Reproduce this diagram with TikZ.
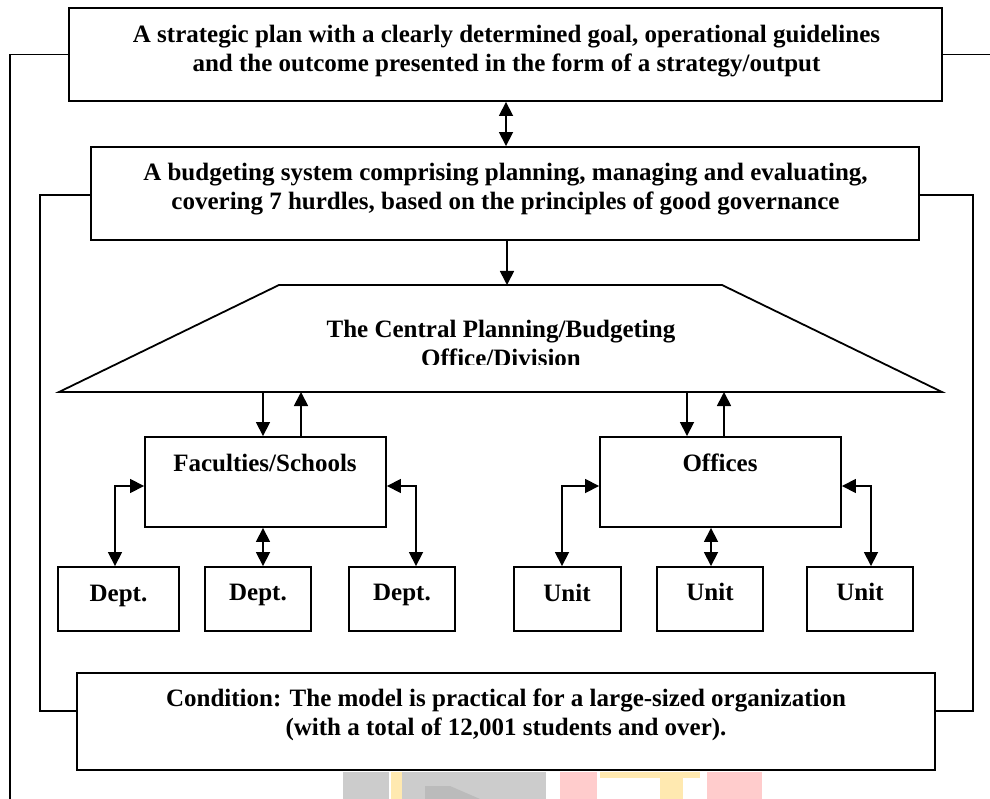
\documentclass[tikz,border=0pt]{standalone}
\usepackage{fontspec}
\setmainfont{Liberation Serif}
\usetikzlibrary{arrows.meta}
\definecolor{wmgray}{HTML}{CCCCCC}
\definecolor{wmdark}{HTML}{BBBBBB}
\definecolor{wmpink}{HTML}{FFCCCC}
\definecolor{wmyel}{HTML}{FFE9B0}
\begin{document}
\begin{tikzpicture}[x=1pt,y=-1pt,
  box/.style={draw, line width=1.9pt, inner sep=0pt, fill=white},
  lbl/.style={font=\fontsize{25}{29}\selectfont\bfseries, align=center, anchor=base, inner sep=0pt},
  conn/.style={line width=1.7pt},
  arr/.style={conn, -{Triangle[length=14pt,width=14pt]}},
  dbl/.style={conn, {Triangle[length=14pt,width=14pt]}-{Triangle[length=14pt,width=14pt]}}]
\useasboundingbox (0,0) rectangle (990,799);

% faint watermark at the bottom edge
\fill[wmgray] (343,772) rectangle (389,799);
\fill[wmyel] (391,772) rectangle (402,799);
\fill[wmgray] (402,772) rectangle (546,799);
\fill[wmdark] (425,786) -- (450,786) -- (480,799) -- (425,799) -- cycle;
\fill[wmpink] (560,772) rectangle (597,799);
\fill[wmyel] (600,772) rectangle (700,778);
\fill[wmyel] (660,772) rectangle (683,799);
\fill[wmpink] (707,772) rectangle (762,799);

% main boxes
\node[box, minimum width=873pt, minimum height=93pt] (top) at (505.5,54.5) {};
\node[lbl] (toptxt) at (506.5,71.7) {A strategic plan with a clearly determined goal, operational guidelines\\and the outcome presented in the form of a strategy/output};

\node[box, minimum width=828pt, minimum height=93pt] (bud) at (505,193.5) {};
\node[lbl] (budtxt) at (505.5,209.3) {A budgeting system comprising planning, managing and evaluating,\\covering 7 hurdles, based on the principles of good governance};

% trapezoid
\node[inner sep=0pt, outer sep=0pt, minimum width=883pt, minimum height=107pt] (trap) at (500.5,338.5) {};
\draw[line width=1.8pt] (trap.south west) -- (trap.south east) -- ([xshift=-220pt]trap.north east) -- ([xshift=220pt]trap.north west) -- cycle;
\begin{scope}
\clip (0,0) rectangle (990,364);
\node[lbl] (traptxt) at (501,366.7) {The Central Planning/Budgeting\\Office/Division};
\end{scope}

% second level
\node[box, minimum width=241pt, minimum height=90pt] (fac) at (265.5,482) {};
\node[lbl] (factxt) at (265,471.7) {Faculties/Schools};
\node[box, minimum width=241pt, minimum height=90pt] (off) at (720.5,482) {};
\node[lbl] (offtxt) at (720,471.7) {Offices};

% third level
\node[box, minimum width=121pt, minimum height=64pt] (d1) at (118.5,599) {};
\node[box, minimum width=106pt, minimum height=64pt] (d2) at (258,599) {};
\node[box, minimum width=106pt, minimum height=64pt] (d3) at (402,599) {};
\node[lbl] at (118.5,601) {Dept.};
\node[lbl] at (258,600) {Dept.};
\node[lbl] at (402,600) {Dept.};

\node[box, minimum width=107pt, minimum height=64pt] (u1) at (567.5,599) {};
\node[box, minimum width=106pt, minimum height=64pt] (u2) at (710,599) {};
\node[box, minimum width=106pt, minimum height=64pt] (u3) at (860,599) {};
\node[lbl] at (567,601) {Unit};
\node[lbl] at (710,600) {Unit};
\node[lbl] at (860,600) {Unit};

% condition
\node[box, minimum width=858pt, minimum height=97pt] (cond) at (506,721.5) {};
\node[lbl, font=\fontsize{25}{28.3}\selectfont\bfseries] (condtxt) at (506,735) {Condition: The model is practical for a large-sized organization\\(with a total of 12,001 students and over).};

% vertical connectors
\draw[dbl] ([xshift=0.5pt]top.south) -- ([xshift=0.5pt]top.south |- bud.north);
\draw[arr] ([xshift=2pt]bud.south) -- ([xshift=2pt]bud.south |- trap.north);

\draw[arr] ([xshift=-2.5pt]fac.north |- trap.south) -- ([xshift=-2.5pt]fac.north);
\draw[arr] ([xshift=35.5pt]fac.north) -- ([xshift=35.5pt]fac.north |- trap.south);
\draw[arr] ([xshift=-33.5pt]off.north |- trap.south) -- ([xshift=-33.5pt]off.north);
\draw[arr] ([xshift=3.5pt]off.north) -- ([xshift=3.5pt]off.north |- trap.south);

\draw[dbl] ([xshift=-3.5pt]d1.north) |- ([yshift=-4pt]fac.west);
\draw[dbl] ([xshift=-2.5pt]fac.south) -- ([xshift=-2.5pt]fac.south |- d2.north);
\draw[dbl] ([xshift=14pt]d3.north) |- ([yshift=-4pt]fac.east);

\draw[dbl] ([xshift=-5.5pt]u1.north) |- ([yshift=-4pt]off.west);
\draw[dbl] ([xshift=-9.5pt]off.south) -- ([xshift=-9.5pt]off.south |- u2.north);
\draw[dbl] ([xshift=11pt]u3.north) |- ([yshift=-4pt]off.east);

% feedback loops
\coordinate (olb) at (10,799);
\coordinate (olr) at (990,54.5);
\coordinate (ilx) at (40,0);
\coordinate (irx) at (973,0);
\draw[conn] (top.west) -| (olb);
\draw[conn] (top.east) -- (olr);
\draw[conn] ([yshift=-1.5pt]bud.west) -| ([yshift=10.5pt]cond.west -| ilx) -- ([yshift=10.5pt]cond.west);
\draw[conn] ([yshift=-1.5pt]bud.east) -| ([yshift=10.5pt]cond.east -| irx) -- ([yshift=10.5pt]cond.east);
\end{tikzpicture}
\end{document}
